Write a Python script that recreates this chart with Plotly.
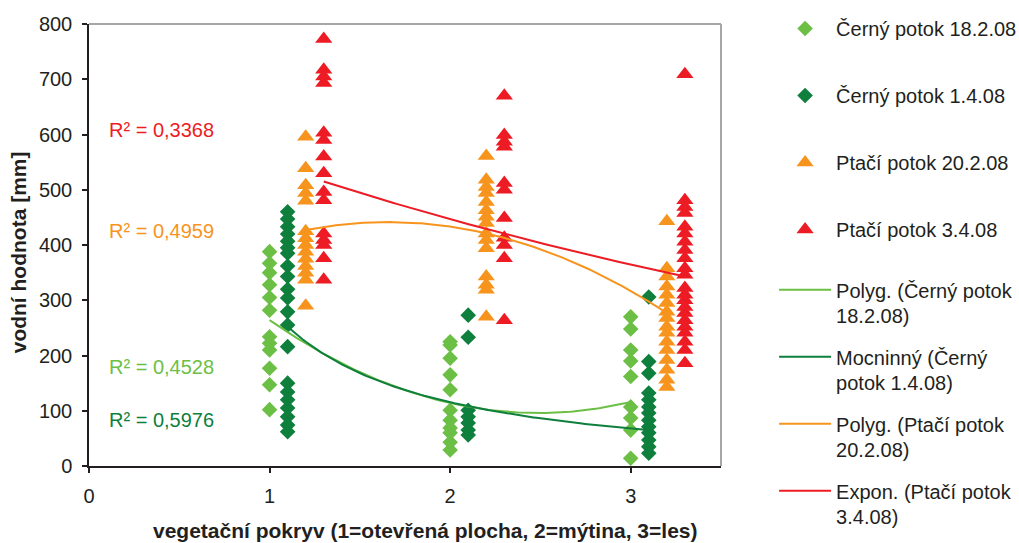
import numpy as np
import plotly.graph_objects as go

FONT = "Liberation Sans, Arial, sans-serif"
TEXT = "#231F20"

# Vegetation cover class (1 = open area, 2 = clearing, 3 = forest);
# each series is offset by 0.1 so the columns stay readable.
veg_classes = [1, 2, 3]

# Snow water equivalent [mm], grouped by vegetation class
cerny_18_2 = [
    [388, 367, 350, 328, 305, 282, 234, 222, 210, 177, 147, 102],
    [225, 219, 195, 165, 138, 101, 83, 69, 60, 43, 29],
    [270, 248, 210, 190, 162, 107, 87, 65, 14],
]
cerny_1_4 = [
    [460, 447, 433, 420, 407, 395, 385, 362, 343, 320, 304, 279, 255, 216,
     150, 134, 120, 105, 89, 74, 62],
    [273, 233, 101, 89, 78, 65, 56],
    [306, 189, 168, 132, 120, 107, 96, 83, 71, 60, 47, 35, 23],
]
ptaci_20_2 = [
    [596, 539, 508, 494, 480, 425, 412, 400, 388, 375, 362, 350, 337, 290],
    [561, 518, 505, 494, 478, 463, 451, 440, 421, 409, 394, 343, 328, 319, 270],
    [443, 358, 343, 325, 310, 295, 279, 268, 252, 241, 225, 210, 192, 174, 156, 143],
]
ptaci_3_4 = [
    [773, 717, 705, 693, 603, 590, 560, 530, 496, 481, 421, 409, 400, 376, 337],
    [670, 599, 587, 578, 512, 500, 449, 413, 400, 376, 264],
    [709, 481, 469, 458, 433, 421, 406, 391, 376, 358, 346, 322, 310, 300,
     288, 277, 264, 252, 241, 225, 210, 186],
]

series_names = ["Černý potok 18.2.08", "Černý potok 1.4.08",
                "Ptačí potok 20.2.08", "Ptačí potok 3.4.08"]
series_offsets = [0.0, 0.1, 0.2, 0.3]
series_colors = ["#6CBF45", "#0E7F3C", "#F7941D", "#ED1C24"]
series_symbols = ["diamond", "diamond", "triangle-up", "triangle-up"]

# Trendline parameters
poly_cerny_18_2 = [76.0, -378.0, 566.0]        # a*x^2 + b*x + c
power_cerny_1_4 = [285.6, -1.308]               # a * x^b
poly_ptaci_20_2 = [-69.0, 228.6, 252.1]         # a*x^2 + b*x + c
expon_ptaci_3_4 = [670.7, -0.2032]              # a * exp(b*x)

trend_names = ["Polyg. (Černý potok<br>18.2.08)",
               "Mocninný (Černý<br>potok 1.4.08)",
               "Polyg. (Ptačí potok<br>20.2.08)",
               "Expon. (Ptačí potok<br>3.4.08)"]
r2_labels = ["R² = 0,4528", "R² = 0,5976", "R² = 0,4959", "R² = 0,3368"]
r2_positions = [(0.1, 179), (0.1, 83), (0.1, 425), (0.1, 608)]

x_title = "vegetační pokryv (1=otevřená plocha, 2=mýtina, 3=les)"
y_title = "vodní hodnota [mm]"

fig = go.Figure()

all_series = [cerny_18_2, cerny_1_4, ptaci_20_2, ptaci_3_4]
for i, groups in enumerate(all_series):
    xs, ys = [], []
    for cls, vals in zip(veg_classes, groups):
        xs += [cls + series_offsets[i]] * len(vals)
        ys += vals
    size = 12 if series_symbols[i] == "diamond" else 15
    fig.add_trace(go.Scatter(
        x=xs, y=ys, mode="markers", name=series_names[i],
        legend="legend", legendgroup=f"s{i}",
        marker=dict(symbol=series_symbols[i], size=size,
                    color=series_colors[i], line=dict(width=0)),
    ))

def trend_curve(i, xx):
    if i == 0:
        return np.polyval(poly_cerny_18_2, xx)
    if i == 1:
        return power_cerny_1_4[0] * xx ** power_cerny_1_4[1]
    if i == 2:
        return np.polyval(poly_ptaci_20_2, xx)
    return expon_ptaci_3_4[0] * np.exp(expon_ptaci_3_4[1] * xx)

for i in range(4):
    xx = np.linspace(veg_classes[0] + series_offsets[i],
                     veg_classes[-1] + series_offsets[i], 120)
    fig.add_trace(go.Scatter(
        x=xx, y=trend_curve(i, xx), mode="lines", name=trend_names[i],
        legend="legend2", legendgroup=f"t{i}",
        line=dict(color=series_colors[i], width=2),
        hoverinfo="skip",
    ))

for i in range(4):
    fig.add_annotation(
        x=r2_positions[i][0], y=r2_positions[i][1], text=r2_labels[i],
        showarrow=False, xanchor="left", yanchor="middle",
        font=dict(family=FONT, size=20, color=series_colors[i]),
    )

# Axis titles
fig.add_annotation(
    xref="paper", yref="paper", x=0.532, y=-0.145, text=f"<b>{x_title}</b>",
    showarrow=False, xanchor="center", yanchor="middle",
    font=dict(family=FONT, size=21, color=TEXT),
)
fig.add_annotation(
    xref="paper", yref="paper", x=-0.112, y=0.484, text=f"<b>{y_title}</b>",
    showarrow=False, xanchor="center", yanchor="middle", textangle=-90,
    font=dict(family=FONT, size=21, color=TEXT),
)

axis_common = dict(
    showgrid=False, zeroline=False, showline=True, linecolor="#231F20",
    linewidth=1.5, ticks="outside", ticklen=5, tickwidth=1.5,
    tickcolor="#231F20", tickfont=dict(family=FONT, size=20, color=TEXT),
    automargin=False,
)

fig.update_layout(
    width=1019, height=543,
    margin=dict(l=89, r=298, t=24, b=77, autoexpand=False),
    paper_bgcolor="white", plot_bgcolor="white",
    font=dict(family=FONT, color=TEXT),
    xaxis=dict(range=[0, 3.5], tickvals=[0, 1, 2, 3], ticklabelstandoff=6,
               **axis_common),
    yaxis=dict(range=[0, 800], dtick=100, ticklabelstandoff=6,
               **axis_common),
    legend=dict(
        x=1.084, xanchor="left", y=1.034, yanchor="top",
        font=dict(family=FONT, size=20, color=TEXT),
        tracegroupgap=38, itemwidth=52, bgcolor="rgba(0,0,0,0)",
    ),
    legend2=dict(
        x=1.084, xanchor="left", y=0.443, yanchor="top",
        font=dict(family=FONT, size=20, color=TEXT),
        tracegroupgap=12, itemwidth=52, valign="top", bgcolor="rgba(0,0,0,0)",
    ),
    shapes=[
        dict(type="line", xref="paper", yref="paper", x0=0, x1=1, y0=1, y1=1,
             line=dict(color="#A6A6A6", width=2)),
        dict(type="line", xref="paper", yref="paper", x0=1, x1=1, y0=0, y1=1,
             line=dict(color="#A6A6A6", width=2)),
    ],
    showlegend=True,
)

fig.write_html("out.html")
